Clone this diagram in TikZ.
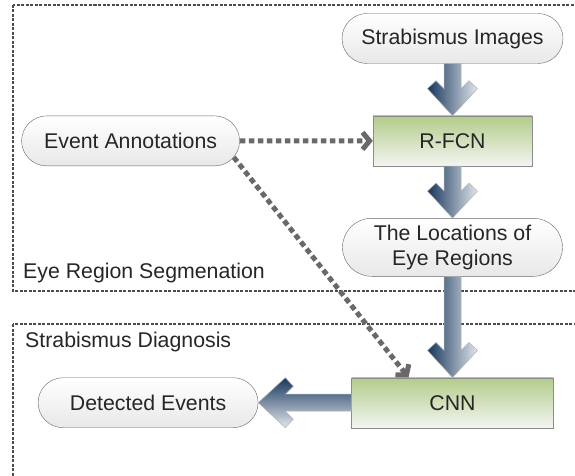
\documentclass[tikz,border=0pt]{standalone}
\usepackage{fontspec}
\setmainfont{Liberation Sans}
\usetikzlibrary{positioning,arrows.meta,calc,shapes.misc}

\definecolor{arrdark}{RGB}{23,55,94}
\definecolor{arrlight}{RGB}{226,230,236}
\definecolor{boxtop}{RGB}{178,204,138}
\definecolor{boxbot}{RGB}{243,245,240}
\definecolor{dotgray}{RGB}{105,105,105}

% fat shaded block arrows, from one node to the next
\newcommand{\fatdown}[2]{%
  \path[fat, left color=arrdark, right color=arrlight] let \p1=(#1.south), \p2=(#2.north) in
    (\x2-8.5pt,\y1) -- (\x2-8.5pt,\y2+27pt) -- (\x2-16.5pt,\y2+35pt) -- (\x2-25pt,\y2+27pt)
    -- (\x2,\y2) -- (\x2+25pt,\y2+27pt) -- (\x2+16.5pt,\y2+35pt) -- (\x2+8.5pt,\y2+27pt)
    -- (\x2+8.5pt,\y1) -- cycle;}
\newcommand{\fatleft}[2]{%
  \path[fat, top color=arrdark, bottom color=arrlight] let \p1=(#1.west), \p2=(#2.east) in
    (\x1,\y2+8.5pt) -- (\x2+27pt,\y2+8.5pt) -- (\x2+35pt,\y2+16.5pt) -- (\x2+27pt,\y2+25pt)
    -- (\x2,\y2) -- (\x2+27pt,\y2-25pt) -- (\x2+35pt,\y2-16.5pt) -- (\x2+27pt,\y2-8.5pt)
    -- (\x1,\y2-8.5pt) -- cycle;}

\begin{document}
\begin{tikzpicture}[
      x=1pt, y=1pt,
      every node/.style={font=\fontsize{21.3}{25}\selectfont, text=black!85},
      pill/.style={rounded rectangle, draw=gray!80!black, top color=white, bottom color=black!9,
        minimum height=50pt, inner sep=0pt},
      stage/.style={rectangle, draw=gray!90, top color=boxtop, bottom color=boxbot,
        minimum height=50pt, inner sep=0pt},
      region/.style={draw=black!70, line width=1.1pt, dash pattern=on 3pt off 1.5pt},
      lbl/.style={anchor=base west, inner sep=0pt},
      fat/.style={draw=gray!60, line width=0.5pt},
      annot/.style={draw=dotgray, line width=5pt, dash pattern=on 5.5pt off 3.5pt,
        -{Straight Barb[length=7pt,width=17pt]}},
    ]
    \clip (0,0) rectangle (575,-476);

    % Regions
    \draw[region] (13,-5) rectangle (590,-291);
    \node[lbl] (seglbl) at (23,-278) {Eye Region Segmenation};
    \draw[region] (13,-324) rectangle (590,-490);
    \node[lbl] (diaglbl) at (25,-347) {Strabismus Diagnosis};

    % Segmentation column
    \node[pill, minimum width=221pt] (img) at (452.5,-38.5) {Strabismus Images};
    \node[stage, minimum width=159pt, below=52pt of img] (rfcn) {R-FCN};
    \node[pill, minimum width=218pt, left=133pt of rfcn] (evt) {Event Annotations};
    \node[pill, minimum width=220pt, minimum height=58pt, align=center, below=52pt of rfcn] (loc)
      {The Locations of\\Eye Regions};

    % Diagnosis
    \node[stage, minimum width=202pt, below=101pt of loc] (cnn) {CNN};
    \node[pill, minimum width=220pt, left=93pt of cnn] (det) {Detected Events};

    % Annotations
    \draw[annot] (evt) -- (rfcn);
    \draw[annot] (evt.-9.5) -- ([xshift=-44pt]cnn.north);

    % Flow
    \fatdown{img}{rfcn}
    \fatdown{rfcn}{loc}
    \fatdown{loc}{cnn}
    \fatleft{cnn}{det}
  \end{tikzpicture}
\end{document}
